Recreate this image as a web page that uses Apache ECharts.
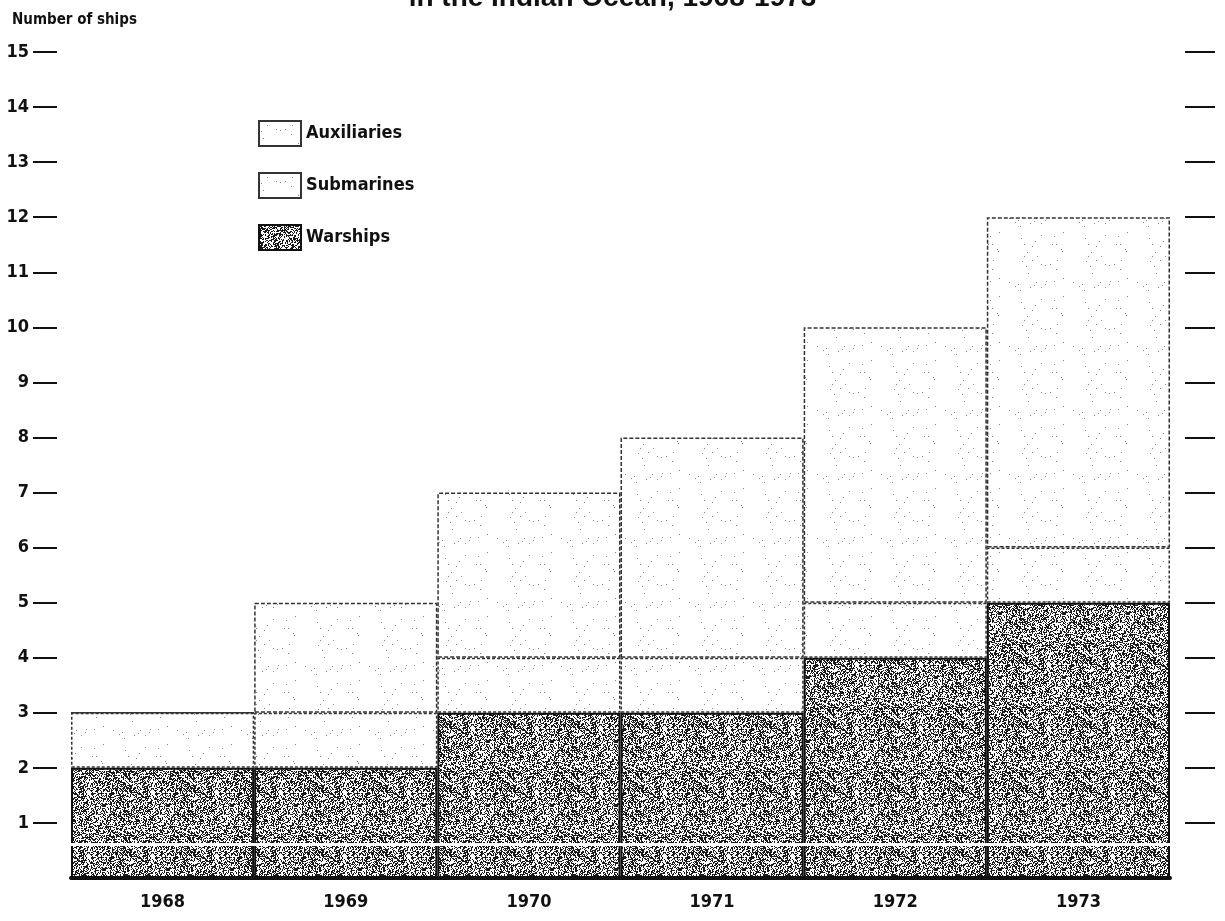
<!DOCTYPE html>
<html><head><meta charset="utf-8">
<script src="https://cdn.jsdelivr.net/npm/echarts@6/dist/echarts.min.js"></script>
<style>html,body{margin:0;padding:0;background:#fff}#c{width:1225px;height:921px}</style>
</head><body><div id="c"></div>
<script>
const years = ['1968', '1969', '1970', '1971', '1972', '1973'];
const warships = [2, 2, 3, 3, 4, 5];
const submarines = [1, 1, 1, 1, 1, 1];
const auxiliaries = [0, 2, 3, 4, 5, 6];
const yTicks = [1, 2, 3, 4, 5, 6, 7, 8, 9, 10, 11, 12, 13, 14, 15];

// stipple texture (deterministic) for the fills
function makeStipple(density, size, ink) {
  const cv = document.createElement('canvas');
  cv.width = size; cv.height = size;
  const ctx = cv.getContext('2d');
  ctx.fillStyle = '#ffffff';
  ctx.fillRect(0, 0, size, size);
  ctx.fillStyle = ink;
  for (let y = 0; y < size; y++) {
    for (let x = 0; x < size; x++) {
      const h = Math.abs(Math.sin(x * 12.9898 + y * 78.233) * 43758.5453) % 1;
      if (h < density) ctx.fillRect(x, y, 1, 1);
    }
  }
  return cv;
}
const stipple = makeStipple(0.46, 64, '#1a1a1a');
const lightStipple = makeStipple(0.006, 64, '#888888');

const FONT = '"DejaVu Sans Condensed", "Liberation Sans Narrow", "Roboto", sans-serif';
const chart = echarts.init(document.getElementById('c'), null, {renderer: 'canvas'});
chart.setOption({
  animation: false,
  backgroundColor: '#ffffff',
  title: {
    text: 'Number of ships', left: 7, top: 8,
    textStyle: {fontFamily: FONT, fontWeight: 'bold', fontSize: 15, color: '#111'}
  },
  graphic: [{
    type: 'text', left: 'center', top: -16,
    style: {text: 'in the Indian Ocean, 1968-1973', font: 'bold 28px "Liberation Sans", Arial, sans-serif', fill: '#111'}
  }],
  legend: {
    data: ['Auxiliaries', 'Submarines', 'Warships'],
    orient: 'vertical', left: 253, top: 115,
    itemWidth: 42, itemHeight: 25, itemGap: 25,
    icon: 'rect',
    textStyle: {fontFamily: FONT, fontWeight: 'bold', fontSize: 18, color: '#111'}
  },
  grid: {left: 71, right: 55, top: 52, bottom: 43, containLabel: false},
  xAxis: {
    type: 'category', data: years,
    axisLine: {show: true, lineStyle: {color: '#111', width: 4}},
    axisTick: {show: false},
    axisLabel: {fontFamily: FONT, fontWeight: 'bold', fontSize: 18, color: '#111', margin: 15}
  },
  yAxis: [{
    type: 'value', min: 0, max: 15, interval: 1, position: 'left', offset: 14,
    axisLine: {show: false},
    axisTick: {show: true, customValues: yTicks, length: 24, lineStyle: {color: '#111', width: 2}},
    axisLabel: {customValues: yTicks, margin: 28, fontFamily: FONT, fontWeight: 'bold', fontSize: 18, color: '#111'},
    splitLine: {show: false}
  }, {
    type: 'value', min: 0, max: 15, interval: 1, position: 'right', offset: 15,
    axisLine: {show: false},
    axisTick: {show: true, customValues: yTicks, length: 30, lineStyle: {color: '#111', width: 2}},
    axisLabel: {show: false},
    splitLine: {show: false}
  }],
  series: [{
    name: 'Warships', type: 'bar', stack: 'ships', data: warships,
    barCategoryGap: '0%',
    itemStyle: {color: {image: stipple, repeat: 'repeat'}, borderColor: '#111', borderWidth: 2},
    markLine: {
      silent: true, symbol: 'none', label: {show: false},
      lineStyle: {color: '#ffffff', width: 3, type: 'solid'},
      data: [{yAxis: 0.62}]
    }
  }, {
    name: 'Submarines', type: 'bar', stack: 'ships', data: submarines,
    barCategoryGap: '0%',
    itemStyle: {color: {image: lightStipple, repeat: 'repeat'}, borderColor: '#333', borderWidth: 1.5, borderType: [3, 2]}
  }, {
    name: 'Auxiliaries', type: 'bar', stack: 'ships', data: auxiliaries,
    barCategoryGap: '0%',
    itemStyle: {color: {image: lightStipple, repeat: 'repeat'}, borderColor: '#333', borderWidth: 1.5, borderType: [4, 2]}
  }]
});
</script>
</body></html>
